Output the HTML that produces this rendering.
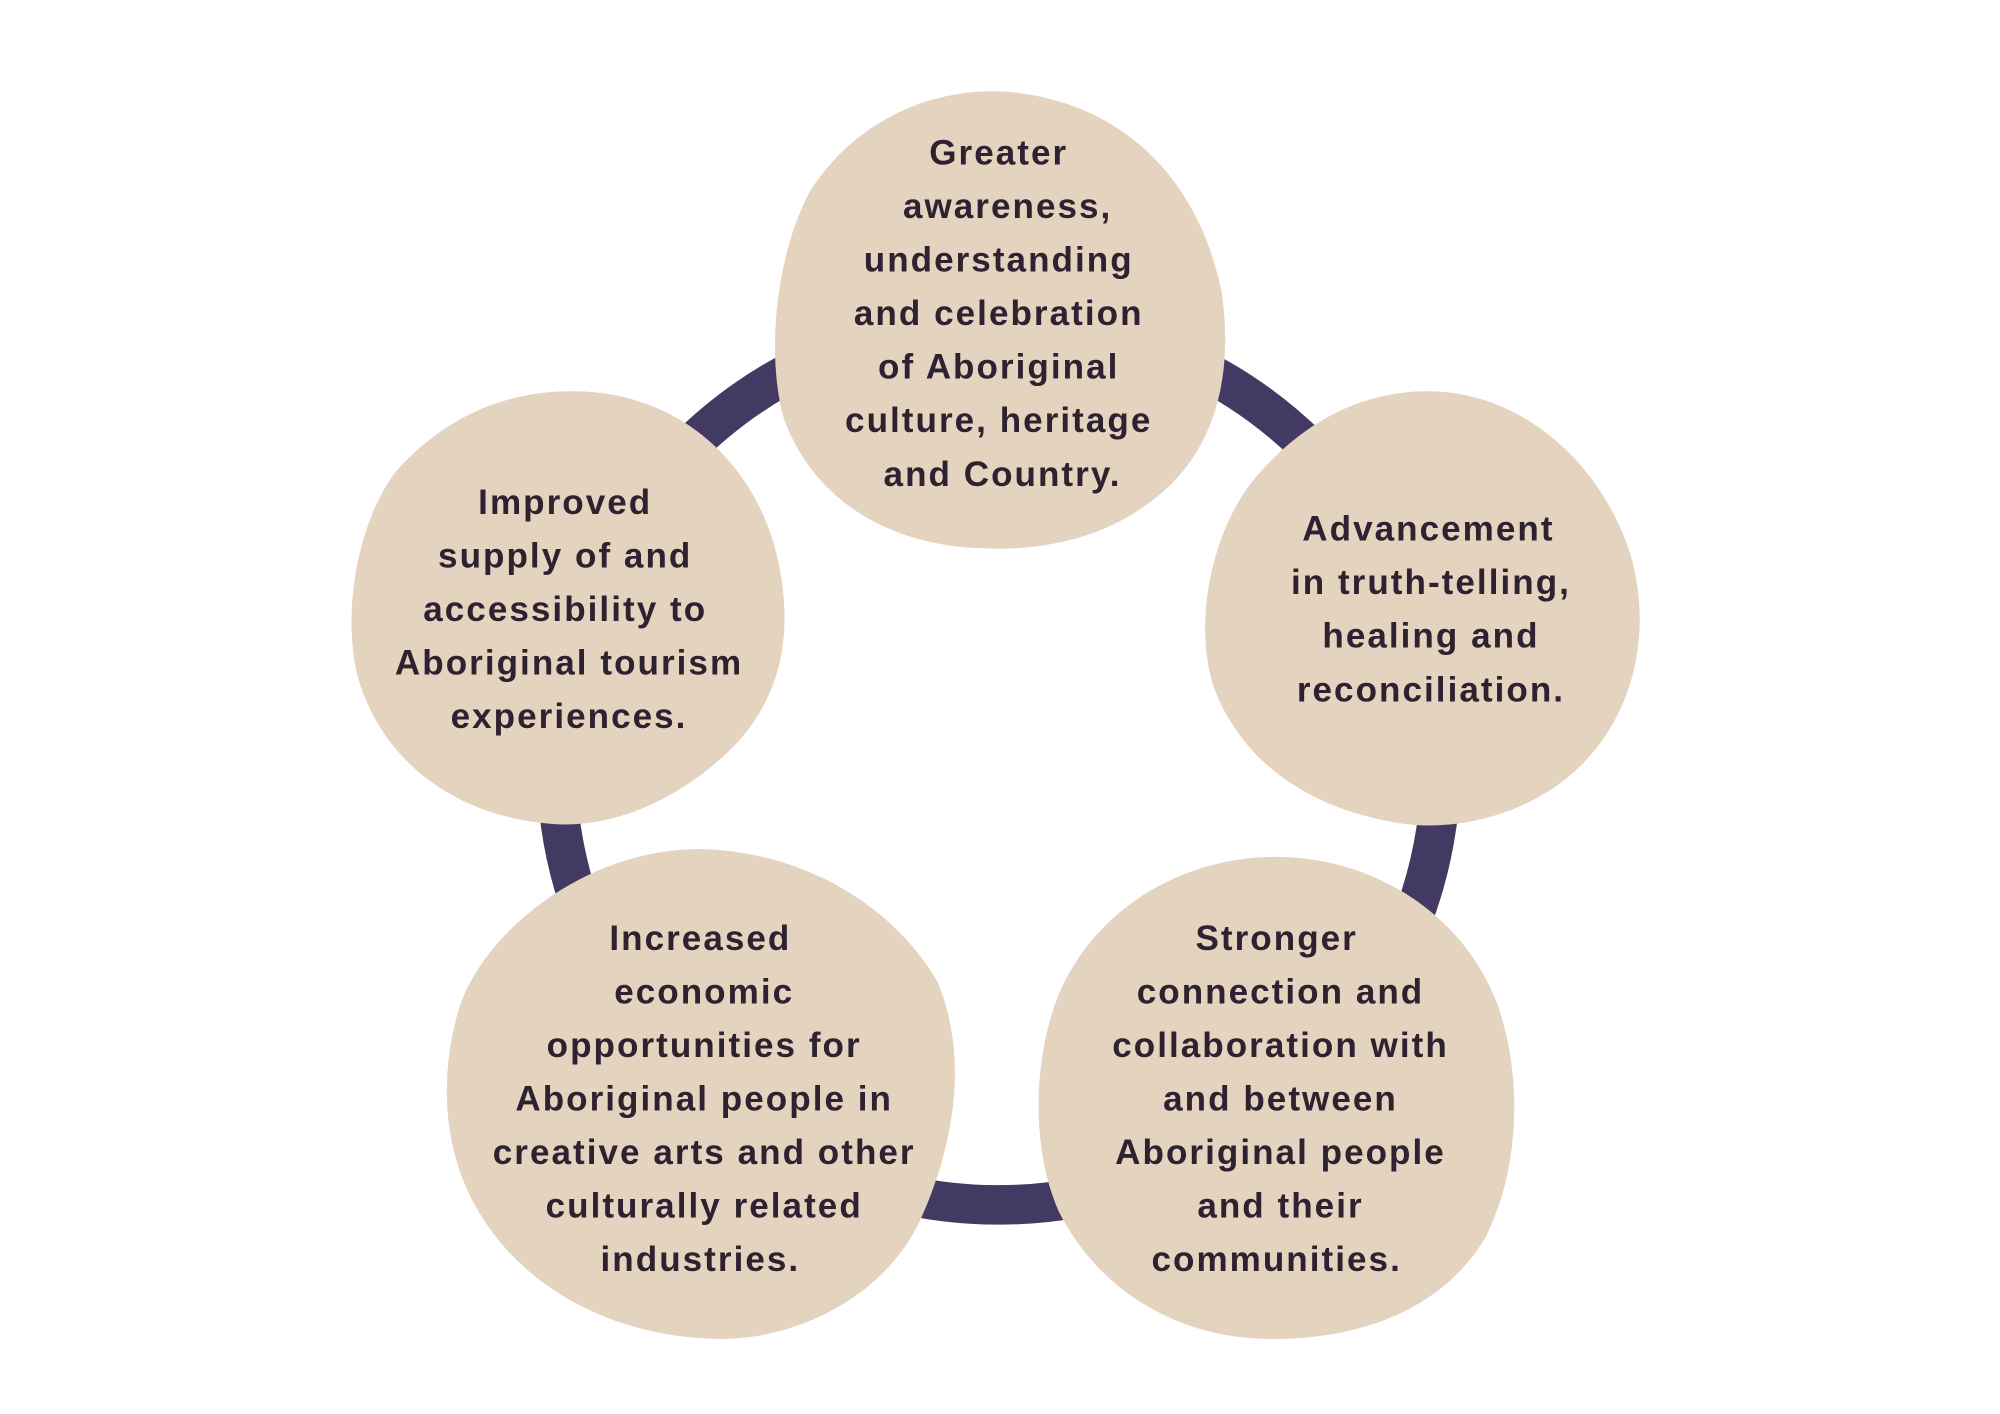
<!DOCTYPE html>
<html><head><meta charset="utf-8"><style>
html,body{margin:0;padding:0;background:#fff;}
svg{display:block}
text{font-family:"Liberation Sans",sans-serif;font-weight:bold;font-size:27.5px;letter-spacing:1.6px;fill:#2e2130;text-anchor:middle}
</style></head><body>
<svg width="2000" height="1414" viewBox="0 0 1568 1109" xmlns="http://www.w3.org/2000/svg">
<rect width="1568" height="1109" fill="#fff"/>
<circle cx="783" cy="598" r="347" fill="none" stroke="#433a63" stroke-width="31"/>
<g fill="#e3d3bf">
<path d="M790,72 C880,80 940,140 958,230 C968,300 950,360 900,395 C860,425 810,432 770,430 C700,428 640,395 615,330 C600,280 608,200 635,150 C670,95 730,68 790,72 Z"/>
<path d="M455,307 C540,310 595,370 610,440 C625,510 605,560 565,595 C520,635 470,650 430,646 C360,640 300,600 280,530 C268,480 280,410 310,370 C350,325 400,305 455,307 Z"/>
<path d="M1125,307 C1200,310 1260,370 1280,440 C1295,500 1280,560 1240,600 C1200,640 1140,652 1100,646 C1030,636 975,600 952,540 C935,490 950,420 980,380 C1020,330 1070,305 1125,307 Z"/>
<path d="M550,666 C630,668 700,710 735,770 C760,830 748,900 720,960 C690,1020 620,1052 560,1050 C480,1048 410,1010 375,950 C345,900 345,840 360,790 C380,730 460,665 550,666 Z"/>
<path d="M1000,672 C1080,672 1150,720 1175,790 C1195,850 1190,920 1165,970 C1130,1030 1060,1052 990,1050 C920,1048 860,1010 830,950 C808,900 810,830 830,780 C860,710 930,672 1000,672 Z"/>
</g>
<g>
<text x="783" y="129">Greater</text>
<text x="790" y="171">awareness,</text>
<text x="783" y="213">understanding</text>
<text x="783" y="255">and celebration</text>
<text x="783" y="297">of Aboriginal</text>
<text x="783" y="339">culture, heritage</text>
<text x="786" y="381">and Country.</text>

<text x="443" y="403">Improved</text>
<text x="443" y="445">supply of and</text>
<text x="443" y="487">accessibility to</text>
<text x="446" y="529">Aboriginal tourism</text>
<text x="446" y="571">experiences.</text>

<text x="1120" y="424">Advancement</text>
<text x="1122" y="466">in truth-telling,</text>
<text x="1122" y="508">healing and</text>
<text x="1122" y="550">reconciliation.</text>

<text x="549" y="745">Increased</text>
<text x="552" y="787">economic</text>
<text x="552" y="829">opportunities for</text>
<text x="552" y="871">Aboriginal people in</text>
<text x="552" y="913">creative arts and other</text>
<text x="552" y="955">culturally related</text>
<text x="549" y="997">industries.</text>

<text x="1001" y="745">Stronger</text>
<text x="1004" y="787">connection and</text>
<text x="1004" y="829">collaboration with</text>
<text x="1004" y="871">and between</text>
<text x="1004" y="913">Aboriginal people</text>
<text x="1004" y="955">and their</text>
<text x="1001" y="997">communities.</text>
</g>
</svg>
</body></html>
